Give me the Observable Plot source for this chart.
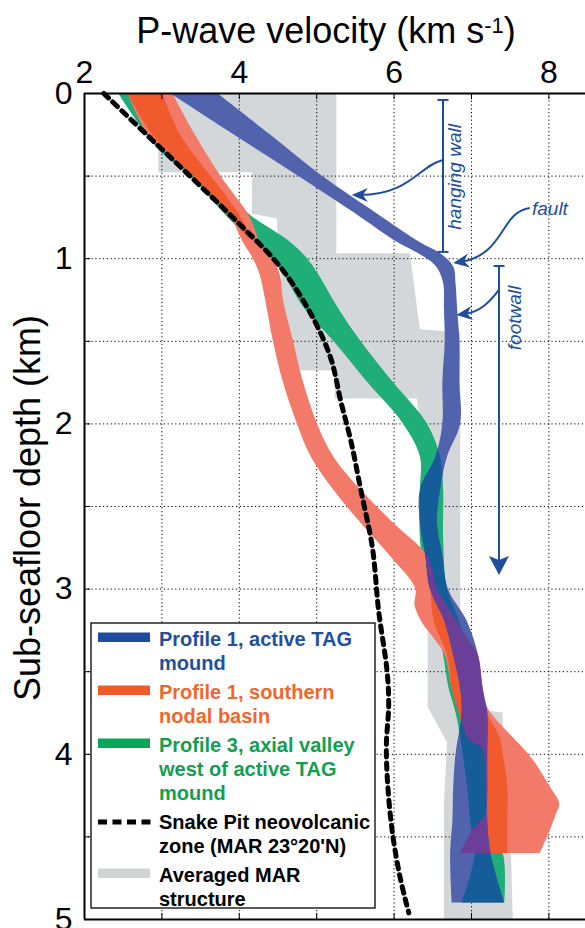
<!DOCTYPE html>
<html>
<head>
<meta charset="utf-8">
<script src="https://cdn.jsdelivr.net/npm/d3@7"></script>
<script src="https://cdn.jsdelivr.net/npm/@observablehq/plot@0.6"></script>
<style>
  html, body { margin: 0; padding: 0; background: #fff; }
  svg { display: block; }
</style>
</head>
<body>
<div id="chart"></div>
<script>
// ---------------- data ----------------
const xTickLabels = [2, 4, 6, 8];
const xGrid = [3, 4, 5, 6, 7, 8];
const yTickLabels = [0, 1, 2, 3, 4, 5];
const yGrid = [0.5, 1, 1.5, 2, 2.5, 3, 3.5, 4, 4.5];

// Averaged MAR structure (grey envelope)
const grayDepth = [0, 0.48, 0.48, 0.73, 0.76, 0.97, 0.97, 1.43, 1.45, 1.68, 1.68, 1.85, 1.85, 2.3, 3.72, 3.75, 3.93, 4.3, 5.0];
const grayLo    = [2.96, 2.96, 4.17, 4.17, 4.49, 4.52, 4.53, 4.56, 4.56, 4.57, 5.24, 5.24, 6.3, 6.44, 6.44, 6.48, 6.69, 6.65, 6.65];
const grayHi    = [5.26, 5.26, 5.26, 5.26, 5.26, 5.26, 6.21, 6.34, 6.86, 6.86, 6.86, 6.86, 6.86, 6.86, 6.86, 7.41, 7.41, 7.50, 7.54];

// Profile 3, axial valley west of active TAG mound (green)
const greenDepth = [0, 0.33, 0.5, 0.75, 0.9, 1.0, 1.1, 1.3, 1.5, 1.75, 2.0, 2.2, 2.4, 2.7, 3.0, 3.2, 3.4, 3.6, 3.75, 3.9, 4.2, 4.45, 4.6, 4.9];
const greenLo    = [2.44, 2.94, 3.37, 3.85, 4.18, 4.42, 4.58, 4.84, 5.22, 5.66, 6.12, 6.34, 6.34, 6.34, 6.43, 6.56, 6.64, 6.71, 6.80, 6.86, 6.95, 7.0, 7.05, 6.88];
const greenHi    = [2.56, 3.05, 3.56, 4.18, 4.66, 4.88, 5.03, 5.28, 5.57, 5.99, 6.43, 6.60, 6.64, 6.64, 6.69, 6.85, 6.95, 7.05, 7.10, 7.15, 7.21, 7.21, 7.41, 7.43];

// Profile 1, southern nodal basin (red envelope)
const redDepth = [0, 0.25, 0.5, 0.75, 0.9, 1.0, 1.1, 1.25, 1.5, 1.75, 2.0, 2.2, 2.4, 2.6, 2.8, 3.0, 3.1, 3.2, 3.3, 3.4, 3.6, 3.72, 3.9, 3.97, 4.05, 4.2, 4.3, 4.36, 4.46, 4.6];
const redLo    = [2.56, 2.83, 3.41, 3.89, 4.05, 4.18, 4.27, 4.34, 4.44, 4.57, 4.75, 4.93, 5.22, 5.57, 5.95, 6.28, 6.27, 6.36, 6.52, 6.66, 6.75, 6.84, 6.95, 7.15, 7.18, 7.19, 7.20, 7.20, 7.02, 6.86];
const redHi    = [3.14, 3.43, 3.76, 4.14, 4.27, 4.44, 4.53, 4.57, 4.70, 4.83, 5.01, 5.22, 5.57, 5.99, 6.43, 6.56, 6.68, 6.82, 6.95, 7.09, 7.15, 7.21, 7.54, 7.68, 7.82, 8.02, 8.14, 8.10, 8.02, 7.89];
// darker core of the red band
const coreTopDepth = [0, 0.25, 0.5, 0.65, 0.8, 0.88];
const coreTopLo    = [2.56, 2.88, 3.41, 3.72, 3.98, 4.12];
const coreTopHi    = [3.01, 3.24, 3.63, 3.88, 4.08, 4.14];
const coreBotDepth = [3.02, 3.2, 3.4, 3.6, 3.75, 3.9, 4.0, 4.2, 4.4, 4.6];
const coreBotLo    = [6.48, 6.52, 6.69, 6.75, 6.84, 6.95, 7.18, 7.19, 7.18, 7.22];
const coreBotHi    = [6.55, 6.82, 7.00, 7.10, 7.20, 7.37, 7.41, 7.47, 7.47, 7.47];

// Profile 1, active TAG mound (blue)
const blueDepth = [0, 0.25, 0.5, 0.75, 0.9, 0.97, 1.05, 1.15, 1.3, 1.5, 1.75, 2.0, 2.2, 2.4, 2.6, 2.8, 3.0, 3.2, 3.4, 3.6, 3.75, 4.0, 4.2, 4.4, 4.6, 4.9];
const blueLo    = [3.11, 3.93, 4.76, 5.57, 6.04, 6.32, 6.55, 6.64, 6.65, 6.66, 6.63, 6.63, 6.54, 6.34, 6.34, 6.41, 6.47, 6.66, 6.77, 6.86, 6.88, 6.80, 6.77, 6.76, 6.73, 6.75];
const blueHi    = [3.72, 4.40, 5.07, 5.85, 6.33, 6.60, 6.77, 6.80, 6.82, 6.85, 6.85, 6.86, 6.69, 6.60, 6.56, 6.63, 6.70, 6.95, 7.09, 7.15, 7.21, 7.21, 7.21, 7.21, 7.25, 7.43];

// Snake Pit neovolcanic zone (dashed)
const snakeV = [2.25, 2.85, 3.43, 3.98, 4.53, 4.92, 5.18, 5.31, 5.44, 5.57, 5.72, 5.80, 5.91, 5.93, 5.90, 5.92, 5.98, 6.08, 6.19];
const snakeD = [0, 0.27, 0.53, 0.78, 1.05, 1.33, 1.60, 1.86, 2.10, 2.40, 2.75, 3.13, 3.50, 3.70, 3.95, 4.20, 4.48, 4.75, 4.96];

// legend
const legendLabels = [
  ["Profile 1, active TAG", "mound"],
  ["Profile 1, southern", "nodal basin"],
  ["Profile 3, axial valley", "west of active TAG", "mound"],
  ["Snake Pit neovolcanic", "zone (MAR 23\u00B020'N)"],
  ["Averaged MAR", "structure"]
];
const legendTextColors = ["#1f4f9f", "#f2662b", "#12a050", "#000000", "#000000"];
const legendSwatchColors = ["#1e4c9c", "#f15a29", "#06a557", "#000000", "#d1d3d4"];

// annotations (data units)
const annotBars = [
  {x: 6.638, y1: 0.042, y2: 0.962, arrow: false},
  {x: 7.362, y1: 1.047, y2: 2.918, arrow: true}
];
const annotTexts = [
  {text: "hanging wall", x: 6.871, y: 0.508, rotate: true},
  {text: "footwall", x: 7.646, y: 1.362, rotate: true},
  {text: "fault", x: 7.788, y: 0.738, rotate: false}
];
const annotCurves = [
  [[6.638, 0.405], [6.34, 0.436], [6.21, 0.617], [5.46, 0.617]],
  [[7.76, 0.696], [7.375, 0.720], [7.44, 0.98], [6.77, 1.029]],
  [[7.362, 1.19], [7.245, 1.265], [7.116, 1.326], [6.81, 1.344]]
];

// ---------------- colours ----------------
const C = {
  gray: "#d4d7da", green: "#1fae78", salmon: "#f37a69", orange: "#f15a2d",
  blue: "#5163ad", darkblue: "#155d98", purple: "#6b3e98", annot: "#1f4e9e"
};

const rows = (d, lo, hi) => d.map((v, i) => ({d: v, lo: lo[i], hi: hi[i]}));
const gray = rows(grayDepth, grayLo, grayHi);
const green = rows(greenDepth, greenLo, greenHi);
const red = rows(redDepth, redLo, redHi);
const coreTop = rows(coreTopDepth, coreTopLo, coreTopHi);
const coreBot = rows(coreBotDepth, coreBotLo, coreBotHi);
const blue = rows(blueDepth, blueLo, blueHi);
const snake = snakeD.map((d, i) => ({d, v: snakeV[i]}));

const band = (data, fill, label, curve = "catmull-rom") =>
  Plot.areaX(data, {y: "d", x1: "lo", x2: "hi", fill, curve, ariaDescription: label});
const FONT = "'Liberation Sans', Arial, Helvetica, sans-serif";

const plot = Plot.plot({
  width: 585,
  height: 928,
  marginLeft: 84,
  marginRight: 0,
  marginTop: 93,
  marginBottom: 9,
  style: {fontFamily: FONT, background: "#fff", overflow: "visible"},
  x: {domain: [2, 8.473], axis: null},
  y: {domain: [0, 5], reverse: true, axis: null},
  marks: [
    band(gray, C.gray, "gray", "linear"),
    Plot.ruleX(xGrid, {stroke: "#000", strokeWidth: 1, strokeDasharray: "1.2,2.6"}),
    Plot.ruleY(yGrid, {stroke: "#000", strokeWidth: 1, strokeDasharray: "1.2,2.6"}),
    band(green, C.green, "green"),
    band(red, C.salmon, "red"),
    band(coreTop, C.orange, "coretop"),
    band(coreBot, C.orange, "corebot"),
    band(blue, C.blue, "blue"),
    Plot.line(snake, {x: "v", y: "d", stroke: "#000", strokeWidth: 5, strokeDasharray: "6.5,6", curve: "catmull-rom"}),
    // frame
    Plot.ruleY([0, 5], {stroke: "#000", strokeWidth: 2}),
    Plot.ruleX([2], {stroke: "#000", strokeWidth: 2}),
    // tick marks
    Plot.ruleX(xGrid, {y1: 0, y2: 0.037, stroke: "#000", strokeWidth: 1}),
    Plot.ruleX(xGrid, {y1: 4.963, y2: 5, stroke: "#000", strokeWidth: 1}),
    Plot.ruleY(yGrid, {x1: 2, x2: 2.08, stroke: "#000", strokeWidth: 1}),
    // tick labels
    Plot.text(xTickLabels, {x: d => d, frameAnchor: "top", text: d => String(d), dy: -11, lineAnchor: "bottom", fontSize: 32, fill: "#000"}),
    Plot.text(yTickLabels, {y: d => d, frameAnchor: "left", text: d => String(d), dx: -12, textAnchor: "end", lineAnchor: "middle", fontSize: 32, fill: "#000"})
  ]
});
document.getElementById("chart").append(plot);

const svg = d3.select(plot);
const sx = plot.scale("x"), sy = plot.scale("y");
const X = v => sx.apply(v), Y = v => sy.apply(v);

// ---- overlap colouring: blue ∩ green (dark blue), blue ∩ red (purple)
const blueG = svg.select('g[aria-description="blue"]');
const bluePath = blueG.select("path");
if (!bluePath.empty()) {
  let defs = svg.select("defs");
  if (defs.empty()) defs = svg.insert("defs", ":first-child");
  defs.append("clipPath").attr("id", "clipBlue").append("path").attr("d", bluePath.attr("d"));
  const over = (label, fill) => {
    const p = svg.select(`g[aria-description="${label}"] path`);
    if (p.empty()) return;
    blueG.append("path").attr("d", p.attr("d")).attr("fill", fill).attr("clip-path", "url(#clipBlue)");
  };
  over("green", C.darkblue);
  over("red", C.purple);
}

// ---- title and axis label
const title = svg.append("text")
  .attr("x", 326).attr("y", 43).attr("text-anchor", "middle")
  .attr("font-family", FONT).attr("font-size", 36).attr("fill", "#000");
title.append("tspan").text("P-wave velocity (km s");
title.append("tspan").attr("font-size", 22).attr("dy", -10).text("-1");
title.append("tspan").attr("dy", 10).text(")");

svg.append("text")
  .attr("transform", "translate(40,508) rotate(-90)")
  .attr("text-anchor", "middle")
  .attr("font-family", FONT).attr("font-size", 36).attr("fill", "#000")
  .text("Sub-seafloor depth (km)");

// ---- annotations
const ag = svg.append("g").attr("fill", "none").attr("stroke", C.annot);
function arrowHead(tip, from, len = 16, half = 7, notch = 5) {
  const dx = tip[0] - from[0], dy = tip[1] - from[1];
  const L = Math.hypot(dx, dy) || 1, ux = dx / L, uy = dy / L;
  const nx = -uy, ny = ux;
  const bx = tip[0] - ux * len, by = tip[1] - uy * len;
  const mx = tip[0] - ux * (len - notch), my = tip[1] - uy * (len - notch);
  ag.append("path")
    .attr("d", `M${tip[0]},${tip[1]}L${bx + nx * half},${by + ny * half}L${mx},${my}L${bx - nx * half},${by - ny * half}Z`)
    .attr("fill", C.annot).attr("stroke", "none");
}
annotBars.forEach(b => {
  const x = X(b.x), y1 = Y(b.y1), y2 = Y(b.y2);
  ag.append("line").attr("x1", x).attr("x2", x).attr("y1", y1).attr("y2", b.arrow ? y2 - 12 : y2).attr("stroke-width", 2);
  ag.append("line").attr("x1", x - 5.5).attr("x2", x + 5.5).attr("y1", y1).attr("y2", y1).attr("stroke-width", 2);
  if (b.arrow) arrowHead([x, y2], [x, y2 - 20], 19, 10, 4);
  else ag.append("line").attr("x1", x - 5.5).attr("x2", x + 5.5).attr("y1", y2).attr("y2", y2).attr("stroke-width", 2);
});
annotCurves.forEach(c => {
  const p = c.map(q => [X(q[0]), Y(q[1])]);
  const e = p[3], c2 = p[2];
  const dx = e[0] - c2[0], dy = e[1] - c2[1], L = Math.hypot(dx, dy);
  const stop = [e[0] - dx / L * 8, e[1] - dy / L * 8];
  ag.append("path").attr("d", `M${p[0]}C${p[1]} ${p[2]} ${stop}`).attr("stroke-width", 2);
  arrowHead(e, c2, 16, 7, 5);
});
annotTexts.forEach(t => {
  const x = X(t.x), y = Y(t.y);
  const tx = svg.append("text")
    .attr("font-family", FONT).attr("font-size", 19).attr("font-style", "italic")
    .attr("fill", C.annot).text(t.text);
  if (t.rotate) tx.attr("transform", `translate(${x},${y}) rotate(-90)`).attr("text-anchor", "middle");
  else tx.attr("x", x).attr("y", y).attr("text-anchor", "start");
});

// ---- legend
const lg = svg.append("g");
lg.append("rect").attr("x", 91).attr("y", 623).attr("width", 284).attr("height", 285)
  .attr("fill", "#fff").attr("stroke", "#000").attr("stroke-width", 1.3);
let base = 646;
legendLabels.forEach((lines, i) => {
  const swY = base - 9;
  if (i === 3) {
    lg.append("line").attr("x1", 98).attr("x2", 151).attr("y1", swY + 2).attr("y2", swY + 2)
      .attr("stroke", legendSwatchColors[i]).attr("stroke-width", 5).attr("stroke-dasharray", "9,5.5");
  } else {
    lg.append("rect").attr("x", 98).attr("y", swY - 4.5).attr("width", 52).attr("height", 9.5)
      .attr("fill", legendSwatchColors[i]);
  }
  lines.forEach((s, j) => {
    lg.append("text").attr("x", 159).attr("y", base + j * 24).attr("text-anchor", "start")
      .attr("font-family", FONT).attr("font-size", 20).attr("font-weight", "bold")
      .attr("fill", legendTextColors[i]).text(s);
  });
  base += (lines.length - 1) * 24 + 29;
});
</script>
</body>
</html>
